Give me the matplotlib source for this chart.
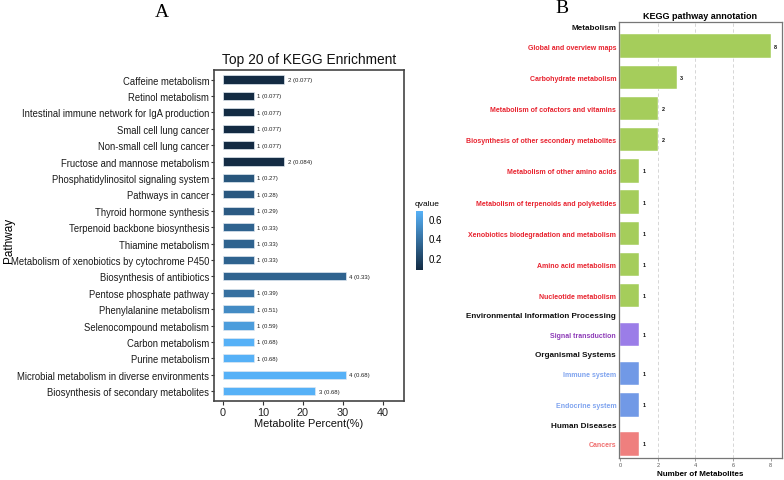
import numpy as np
import matplotlib
matplotlib.use("Agg")
import matplotlib.pyplot as plt
from matplotlib.colors import LinearSegmentedColormap, Normalize

plt.rcParams['font.family'] = ['Liberation Sans', 'DejaVu Sans']

# ---- panel A data ----
pathways = ["Caffeine metabolism", "Retinol metabolism",
            "Intestinal immune network for IgA production", "Small cell lung cancer",
            "Non-small cell lung cancer", "Fructose and mannose metabolism",
            "Phosphatidylinositol signaling system", "Pathways in cancer",
            "Thyroid hormone synthesis", "Terpenoid backbone biosynthesis",
            "Thiamine metabolism", "Metabolism of xenobiotics by cytochrome P450",
            "Biosynthesis of antibiotics", "Pentose phosphate pathway",
            "Phenylalanine metabolism", "Selenocompound metabolism",
            "Carbon metabolism", "Purine metabolism",
            "Microbial metabolism in diverse environments",
            "Biosynthesis of secondary metabolites"]
counts = [2, 1, 1, 1, 1, 2, 1, 1, 1, 1, 1, 1, 4, 1, 1, 1, 1, 1, 4, 3]
percent = [15.4, 7.7, 7.7, 7.7, 7.7, 15.4, 7.7, 7.7, 7.7, 7.7, 7.7, 7.7,
           30.8, 7.7, 7.7, 7.7, 7.7, 7.7, 30.8, 23.1]
qvalue = [0.077, 0.077, 0.077, 0.077, 0.077, 0.084, 0.27, 0.28, 0.29, 0.33,
          0.33, 0.33, 0.33, 0.39, 0.51, 0.59, 0.68, 0.68, 0.68, 0.68]
qlabels = ["0.077", "0.077", "0.077", "0.077", "0.077", "0.084", "0.27", "0.28",
           "0.29", "0.33", "0.33", "0.33", "0.33", "0.39", "0.51", "0.59",
           "0.68", "0.68", "0.68", "0.68"]

# ---- panel B data ----
classes = ["Metabolism", "Environmental Information Processing",
           "Organismal Systems", "Human Diseases"]
class_terms = [
    ["Global and overview maps", "Carbohydrate metabolism",
     "Metabolism of cofactors and vitamins",
     "Biosynthesis of other secondary metabolites",
     "Metabolism of other amino acids",
     "Metabolism of terpenoids and polyketides",
     "Xenobiotics biodegradation and metabolism",
     "Amino acid metabolism", "Nucleotide metabolism"],
    ["Signal transduction"],
    ["Immune system", "Endocrine system"],
    ["Cancers"],
]
class_counts = [[8, 3, 2, 2, 1, 1, 1, 1, 1], [1], [1, 1], [1]]
bar_colors = ["#a5cd5b", "#9b7de8", "#7199e6", "#ef7f7e"]
label_colors = ["#e8222e", "#8e3cb8", "#7ea3ef", "#f06f6f"]

fig = plt.figure(figsize=(7.84, 4.81), dpi=100)

# ================= panel A =================
axA = fig.add_axes([0.273, 0.1642, 0.2423, 0.6888])
cmap = LinearSegmentedColormap.from_list("gg", ["#132b43", "#56b1f7"])
norm = Normalize(vmin=min(qvalue), vmax=max(qvalue))
ypos = np.arange(len(pathways))
axA.barh(ypos, percent, height=0.5, color=cmap(norm(qvalue)),
         edgecolor="#dfe8f0", linewidth=0.5)
for y, p, c, q in zip(ypos, percent, counts, qlabels):
    axA.annotate(f"{c} ({q})", (p, y), xytext=(2.5, 0), textcoords="offset points",
                 ha="left", va="center", fontsize=4.3, color="#222222")
axA.set_ylim(len(pathways) - 0.4, -0.6)
axA.set_xlim(-2.2, 45.3)
axA.set_xticks([0, 10, 20, 30, 40])
axA.set_yticks(ypos)
axA.set_yticklabels(pathways, fontsize=6.85, color="#1a1a1a")
axA.tick_params(axis="x", labelsize=7.8, length=3, color="#333333", labelcolor="#222222", pad=1)
axA.tick_params(axis="y", length=2.5, color="#333333", pad=1)
for s in axA.spines.values():
    s.set_color("#444444")
    s.set_linewidth(1.2)
axA.set_xlabel("Metabolite Percent(%)", fontsize=7.9, labelpad=1, color="#111111")
axA.set_title("Top 20 of KEGG Enrichment", fontsize=9.9, pad=5, color="#111111")
fig.text(0.011, 0.5, "Pathway", rotation=90, fontsize=8.5, ha="center", va="center")

# colourbar
cax = fig.add_axes([0.5306, 0.4366, 0.0089, 0.1227])
sm = plt.cm.ScalarMappable(norm=norm, cmap=cmap)
cb = fig.colorbar(sm, cax=cax, ticks=[0.2, 0.4, 0.6])
cb.outline.set_visible(False)
cb.ax.tick_params(length=2, color="white", labelsize=7, pad=2, width=0.6)
cb.ax.set_yticklabels(["0.2", "0.4", "0.6"])
fig.text(0.529, 0.575, "qvalue", fontsize=6, ha="left", va="center")

fig.text(0.207, 0.975, "A", fontsize=14, family="Liberation Serif", ha="center", va="center")
fig.text(0.717, 0.983, "B", fontsize=14, family="Liberation Serif", ha="center", va="center")

# ================= panel B =================
axB = fig.add_axes([0.7895, 0.0457, 0.2079, 0.9064])
pos = 0.0
tick_pos, tick_lab, tick_col, tick_bold = [], [], [], []
for ci, cls in enumerate(classes):
    if ci > 0:
        pos += 0.61
    tick_pos.append(pos)
    tick_lab.append(cls)
    tick_col.append("#111111")
    tick_bold.append(True)
    first = True
    for term, val in zip(class_terms[ci], class_counts[ci]):
        pos += 0.64 if first else 1.0
        first = False
        axB.barh(pos, val, height=0.75, color=bar_colors[ci],
                 edgecolor="#ffffff", linewidth=0.3, zorder=2)
        axB.annotate(str(val), (val, pos), xytext=(2.5, 0), textcoords="offset points",
                     ha="left", va="center", fontsize=4, fontweight="bold", color="#111111")
        tick_pos.append(pos)
        tick_lab.append(term)
        tick_col.append(label_colors[ci])
        tick_bold.append(False)
axB.set_ylim(pos + 0.45, -0.13)
axB.set_xlim(-0.07, 8.6)
axB.set_yticks(tick_pos)
axB.set_yticklabels(tick_lab)
for lab, col, hdr in zip(axB.get_yticklabels(), tick_col, tick_bold):
    lab.set_color(col)
    lab.set_fontweight("bold")
    lab.set_fontsize(5.9 if hdr else 5.0)
axB.tick_params(axis="y", length=0, pad=2)
axB.set_xticks([0, 2, 4, 6, 8])
axB.tick_params(axis="x", length=2, labelsize=4, color="#777777", labelcolor="#555555", pad=1, width=0.5)
axB.xaxis.grid(True, linestyle=(0, (4, 3)), color="#d0d0d0", linewidth=0.6, zorder=0)
gl = axB.get_xgridlines()
gl[0].set_visible(False)
gl[-1].set_visible(False)
axB.set_axisbelow(True)
for s in axB.spines.values():
    s.set_color("#777777")
    s.set_linewidth(0.9)
axB.set_xlabel("Number of Metabolites", fontsize=5.8, fontweight="bold", labelpad=2)
axB.set_title("KEGG pathway annotation", fontsize=6.5, fontweight="bold", pad=3)

fig.savefig("out.png", dpi=100)
